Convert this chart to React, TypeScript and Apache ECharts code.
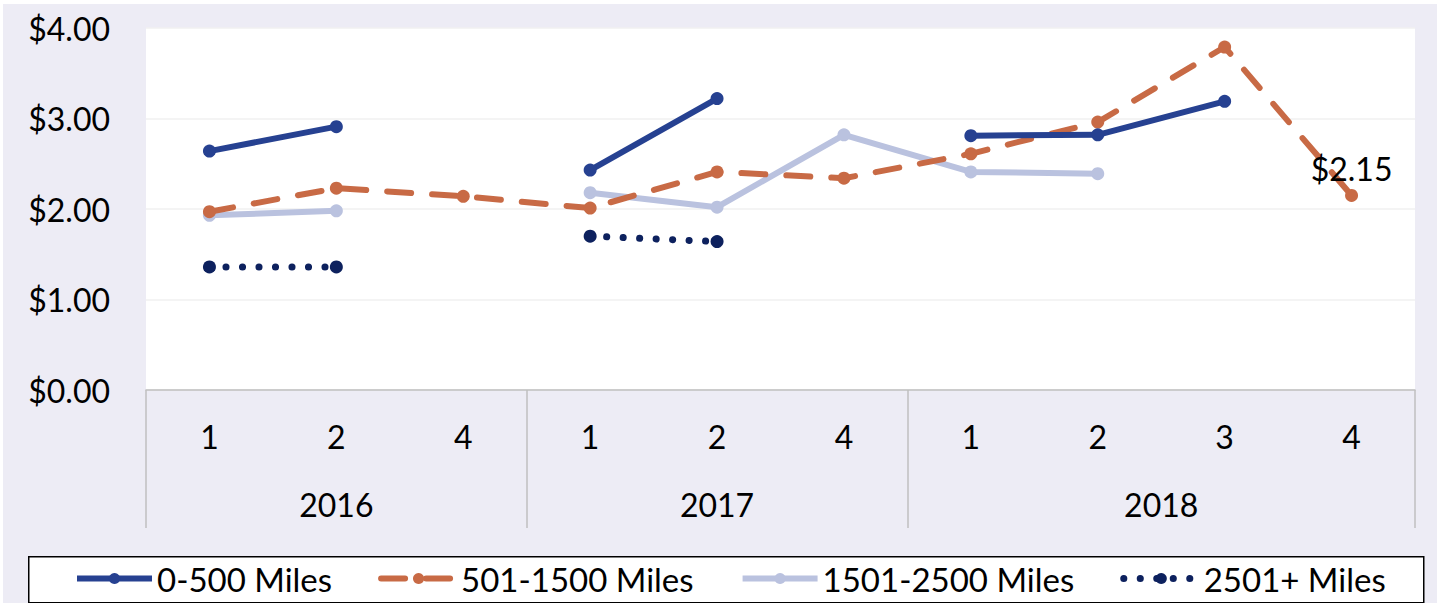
import React, { useEffect, useRef } from "react";
import * as echarts from "echarts";

const quarters = ["1", "2", "4", "1", "2", "4", "1", "2", "3", "4"];
const years = ["2016", "2017", "2018"];
const yearSpans = [3, 3, 4];
const yTicks = [0, 1, 2, 3, 4];

const s0to500 = [2.64, 2.91, null, 2.43, 3.22, null, 2.81, 2.82, 3.19, null];
const s501to1500 = [1.97, 2.23, 2.14, 2.01, 2.41, 2.34, 2.61, 2.96, 3.79, 2.15];
const s1501to2500 = [1.93, 1.98, null, 2.18, 2.02, 2.82, 2.41, 2.39, null, null];
const s2501plus = [1.36, 1.36, null, 1.7, 1.64, null, null, null, null, null];

const seriesNames = ["0-500 Miles", "501-1500 Miles", "1501-2500 Miles", "2501+ Miles"];
const lastLabelIndex = 9;

const FONT = "Lato";

export default function App() {
  const ref = useRef<HTMLDivElement>(null);
  useEffect(() => {
    if (!ref.current) return;
    const chart = echarts.init(ref.current, null, { renderer: "svg" });

    const centers: number[] = [];
    const bounds: number[] = [-0.5];
    let start = 0;
    yearSpans.forEach((n) => {
      centers.push(start + (n - 1) / 2);
      start += n;
      bounds.push(start - 0.5);
    });

    const orangeData = s501to1500.map((v, i) =>
      i === lastLabelIndex
        ? {
            value: v,
            label: {
              show: true,
              position: "top",
              distance: 4,
              formatter: "$" + (v as number).toFixed(2),
              fontFamily: FONT,
              fontSize: 32,
              color: "#000",
            },
          }
        : v
    );

    const option = {
      animation: false,
      backgroundColor: "#EDECF5",
      textStyle: { fontFamily: FONT },
      grid: {
        left: 143,
        right: 22,
        top: 24,
        bottom: 213,
        show: true,
        backgroundColor: "#ffffff",
        borderWidth: 0,
      },
      graphic: [
        {
          type: "rect",
          left: 25,
          top: 552,
          shape: { width: 1395, height: 46 },
          style: { fill: "#ffffff", stroke: "#000000", lineWidth: 1.5 },
          z: 0,
        },
      ],
      legend: {
        left: 71,
        top: 558,
        itemWidth: 75,
        itemHeight: 14,
        itemGap: 46,
        padding: 0,
        z: 5,
        lineStyle: { width: "inherit" },
        textStyle: { fontFamily: FONT, fontSize: 33, color: "#000", padding: [0, 0, 0, 0] },
        data: seriesNames,
      },
      xAxis: [
        {
          type: "category",
          data: quarters,
          boundaryGap: true,
          position: "bottom",
          axisLine: { show: true, lineStyle: { color: "#BFBFBF", width: 1.5 } },
          axisTick: { show: false },
          axisLabel: { fontFamily: FONT, fontSize: 32, color: "#000", margin: 30, interval: 0 },
          splitLine: { show: false },
        },
        {
          type: "value",
          min: -0.5,
          max: 9.5,
          interval: 0.5,
          position: "bottom",
          axisLine: { show: false },
          splitLine: { show: false },
          axisTick: {
            show: true,
            customValues: bounds,
            length: 138,
            lineStyle: { color: "#BFBFBF", width: 1.5 },
          },
          axisLabel: {
            customValues: centers,
            fontFamily: FONT,
            fontSize: 32,
            color: "#000",
            margin: 98,
            formatter: (v: number) => {
              const idx = centers.findIndex((c) => Math.abs(c - v) < 1e-6);
              return idx >= 0 ? years[idx] : "";
            },
          },
        },
      ],
      yAxis: {
        type: "value",
        min: yTicks[0],
        max: yTicks[yTicks.length - 1],
        interval: 1,
        axisLine: { show: false },
        axisTick: { show: false },
        axisLabel: {
          fontFamily: FONT,
          fontSize: 32,
          color: "#000",
          margin: 36,
          formatter: (v: number) => "$" + v.toFixed(2),
        },
        splitLine: { show: true, lineStyle: { color: "#F0F0F0", width: 1.5 } },
      },
      series: [
        {
          name: seriesNames[0],
          type: "line",
          xAxisIndex: 0,
          data: s0to500,
          symbol: "circle",
          symbolSize: 13,
          itemStyle: { color: "#264191" },
          lineStyle: { color: "#264191", width: 6 },
          z: 4,
        },
        {
          name: seriesNames[1],
          type: "line",
          xAxisIndex: 0,
          data: orangeData,
          symbol: "circle",
          symbolSize: 13,
          itemStyle: { color: "#C86A45" },
          lineStyle: { color: "#C86A45", width: 6, type: [24, 21], cap: "round" },
          z: 3,
        },
        {
          name: seriesNames[2],
          type: "line",
          xAxisIndex: 0,
          data: s1501to2500,
          symbol: "circle",
          symbolSize: 13,
          itemStyle: { color: "#BAC2DF" },
          lineStyle: { color: "#BAC2DF", width: 6 },
          z: 2,
        },
        {
          name: seriesNames[3],
          type: "line",
          xAxisIndex: 0,
          data: s2501plus,
          symbol: "circle",
          symbolSize: 13,
          itemStyle: { color: "#0D215E" },
          lineStyle: { color: "#0D215E", width: 7, type: [0.1, 16.4], cap: "round" },
          z: 2,
        },
      ],
    };
    chart.setOption(option as any);
    return () => chart.dispose();
  }, []);

  return (
    <div style={{ position: "fixed", left: 0, top: 0, width: 1440, height: 603, background: "#ffffff" }}>
      <div ref={ref} style={{ position: "absolute", left: 3, top: 4, width: 1434, height: 599 }} />
    </div>
  );
}
